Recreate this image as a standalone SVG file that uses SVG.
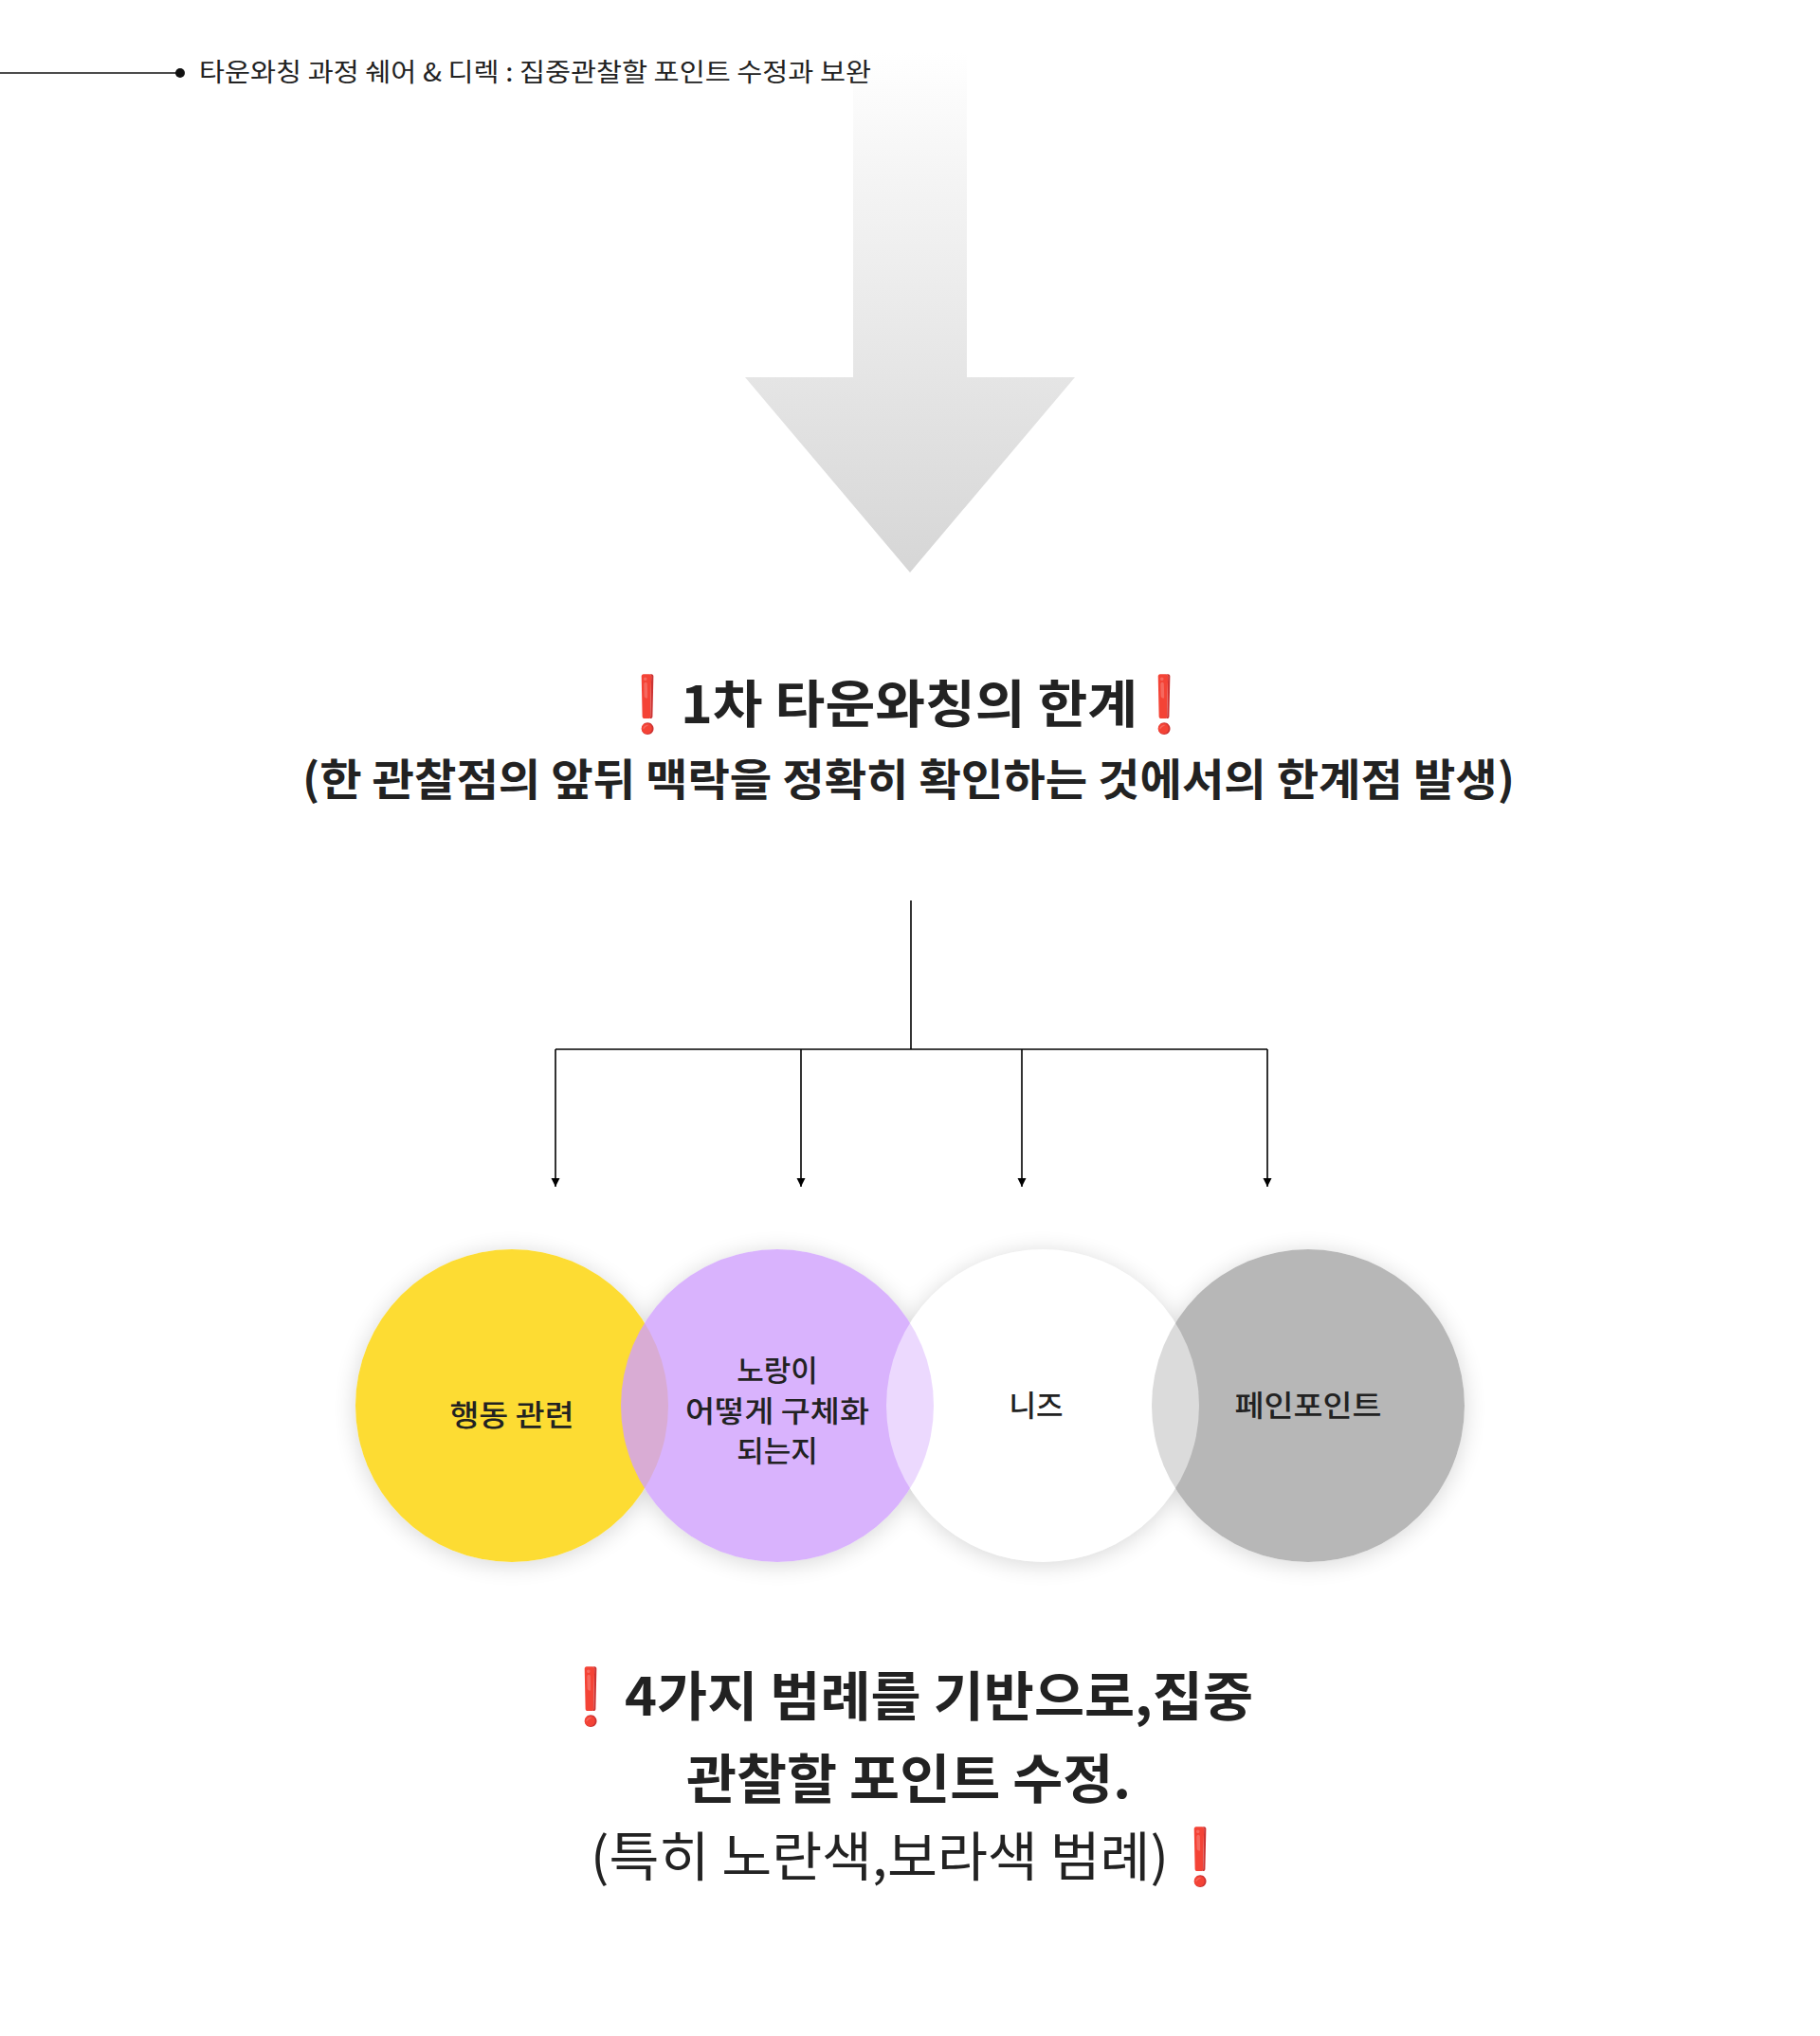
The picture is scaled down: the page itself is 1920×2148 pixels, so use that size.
<svg xmlns="http://www.w3.org/2000/svg" width="1920" height="2148" viewBox="0 0 1920 2148">
<style>
.t{font-family:"Noto Sans CJK KR","Noto Sans",sans-serif;fill:#222}
.b{font-weight:700}
.ex{font-family:"DejaVu Sans","Noto Sans",sans-serif;fill:#e00000;font-weight:700}
.conn{stroke:#000;stroke-width:1.6;fill:none}
.ct{font-family:"Noto Sans CJK KR","Noto Sans",sans-serif;fill:#222;font-size:31px;font-weight:500;text-anchor:middle}
</style>
<defs>
<linearGradient id="ag" x1="0" y1="55" x2="0" y2="604" gradientUnits="userSpaceOnUse">
<stop offset="0" stop-color="#ffffff"/>
<stop offset="0.25" stop-color="#f4f4f4"/>
<stop offset="1" stop-color="#d6d6d6"/>
</linearGradient>
<marker id="ah" markerUnits="userSpaceOnUse" markerWidth="10" markerHeight="10" refX="9" refY="5" orient="auto">
<path d="M0,0.5 L9,5 L0,9.5 z" fill="#000"/>
</marker>
<filter id="sh" x="-30%" y="-30%" width="160%" height="160%">
<feGaussianBlur in="SourceAlpha" stdDeviation="12" result="b"/>
<feOffset in="b" dy="3" result="o"/>
<feComposite in="o" in2="SourceAlpha" operator="out" result="c"/>
<feComponentTransfer in="c"><feFuncA type="linear" slope="0.16"/></feComponentTransfer>
</filter>
</defs>
<rect width="1920" height="2148" fill="#fff"/>

<g id="arrow">
<polygon points="900,55 1020,55 1020,398 1134,398 960,604 786,398 900,398" fill="url(#ag)"/>
</g>

<g id="header">
<line x1="0" y1="77" x2="188" y2="77" stroke="#111" stroke-width="1.6"/>
<circle cx="190" cy="77" r="5" fill="#111"/>
<text class="t" x="210" y="86" font-size="27" fill="#111" textLength="709" lengthAdjust="spacingAndGlyphs">타운와칭 과정 쉐어 &amp; 디렉 : 집중관찰할 포인트 수정과 보완</text>
</g>

<g id="title">
<text class="ex" x="683" y="763" font-size="58" text-anchor="middle">❗</text>
<text class="t b" x="718" y="763" font-size="54" textLength="482" lengthAdjust="spacingAndGlyphs">1차 타운와칭의 한계</text>
<text class="ex" x="1228" y="763" font-size="58" text-anchor="middle">❗</text>
<text class="t b" x="319" y="839" font-size="46" textLength="1279" lengthAdjust="spacingAndGlyphs">(한 관찰점의 앞뒤 맥락을 정확히 확인하는 것에서의 한계점 발생)</text>
</g>

<g id="connectors">
<line class="conn" x1="961" y1="950" x2="961" y2="1107"/>
<line class="conn" x1="586" y1="1107" x2="1337" y2="1107"/>
<line class="conn" x1="586" y1="1107" x2="586" y2="1252" marker-end="url(#ah)"/>
<line class="conn" x1="845" y1="1107" x2="845" y2="1252" marker-end="url(#ah)"/>
<line class="conn" x1="1078" y1="1107" x2="1078" y2="1252" marker-end="url(#ah)"/>
<line class="conn" x1="1337" y1="1107" x2="1337" y2="1252" marker-end="url(#ah)"/>
</g>

<g id="shadows" filter="url(#sh)">
<circle cx="540" cy="1483" r="165" fill="#000"/>
<circle cx="820" cy="1483" r="165" fill="#000"/>
<circle cx="1100" cy="1483" r="165" fill="#000"/>
<circle cx="1380" cy="1483" r="165" fill="#000"/>
</g>

<g id="node-behavior">
<circle cx="540" cy="1483" r="165" fill="#fddc33"/>
<text class="ct" x="540" y="1504" textLength="131" lengthAdjust="spacingAndGlyphs">행동 관련</text>
</g>
<g id="node-concrete">
<circle cx="820" cy="1483" r="165" fill="#d0a0fd" fill-opacity="0.8"/>
<text class="ct" x="820" y="1457">노랑이</text>
<text class="ct" x="820" y="1500" textLength="194" lengthAdjust="spacingAndGlyphs">어떻게 구체화</text>
<text class="ct" x="820" y="1542">되는지</text>
</g>
<g id="node-painpoint">
<circle cx="1380" cy="1483" r="165" fill="#b7b7b7"/>
<text class="ct" x="1380" y="1494" textLength="155" lengthAdjust="spacingAndGlyphs">페인포인트</text>
</g>
<g id="node-needs">
<circle cx="1100" cy="1483" r="165" fill="#fff" fill-opacity="0.5"/>
<text class="ct" x="1093" y="1494">니즈</text>
</g>

<g id="conclusion">
<text class="ex" x="623" y="1810" font-size="58" text-anchor="middle">❗</text>
<text class="t b" x="659" y="1810" font-size="56" textLength="663" lengthAdjust="spacingAndGlyphs">4가지 범례를 기반으로,집중</text>
<text class="t b" x="724" y="1897" font-size="56" textLength="469" lengthAdjust="spacingAndGlyphs">관찰할 포인트 수정.</text>
<text class="t" x="623" y="1979" font-size="56" textLength="610" lengthAdjust="spacingAndGlyphs">(특히 노란색,보라색 범례)</text>
<text class="ex" x="1266" y="1979" font-size="58" text-anchor="middle">❗</text>
</g>
</svg>
